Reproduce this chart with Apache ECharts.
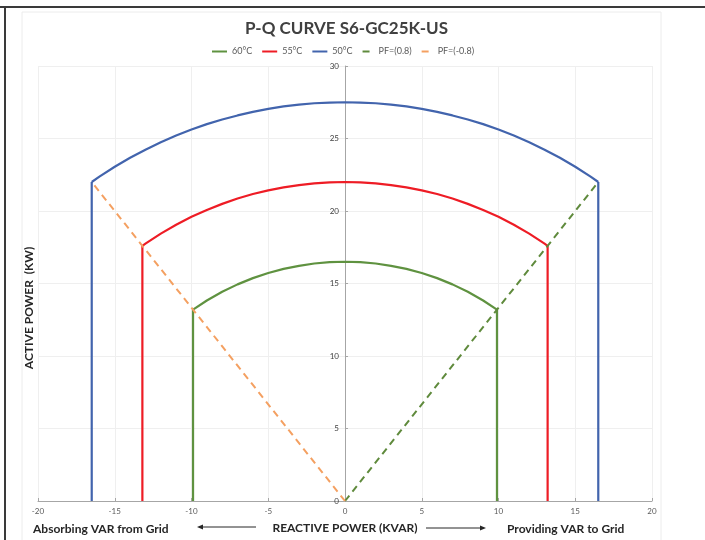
<!DOCTYPE html>
<html>
<head>
<meta charset="utf-8">
<script src="https://cdn.jsdelivr.net/npm/echarts@6/dist/echarts.min.js"></script>
<style>
  html, body { margin: 0; padding: 0; background: #fff; }
  #chart { width: 705px; height: 540px; }
</style>
</head>
<body>
<div id="chart"></div>
<script>
// reactive power (kvar) / active power (kW)
const q50Arc = [-16.5, -16, -15, -14, -13, -12, -11, -10, -9, -8, -7, -6, -5, -4, -3, -2, -1, 0,
  1, 2, 3, 4, 5, 6, 7, 8, 9, 10, 11, 12, 13, 14, 15, 16, 16.5]
const p50Arc = [22, 22.37, 23.05, 23.67, 24.23, 24.74, 25.2, 25.62, 25.99, 26.31, 26.59, 26.84, 27.04, 27.21, 27.34, 27.43, 27.48, 27.5,
  27.48, 27.43, 27.34, 27.21, 27.04, 26.84, 26.59, 26.31, 25.99, 25.62, 25.2, 24.74, 24.23, 23.67, 23.05, 22.37, 22]
const q50Legs = [-16.5, -16.5, '-', 16.5, 16.5]
const p50Legs = [0, 22, '-', 22, 0]

const q55Arc = [-13.2, -13, -12, -11, -10, -9, -8, -7, -6, -5, -4, -3, -2, -1, 0,
  1, 2, 3, 4, 5, 6, 7, 8, 9, 10, 11, 12, 13, 13.2]
const p55Arc = [17.6, 17.75, 18.44, 19.05, 19.6, 20.07, 20.49, 20.86, 21.17, 21.42, 21.63, 21.79, 21.91, 21.98, 22,
  21.98, 21.91, 21.79, 21.63, 21.42, 21.17, 20.86, 20.49, 20.07, 19.6, 19.05, 18.44, 17.75, 17.6]
const q55Legs = [-13.2, -13.2, '-', 13.2, 13.2]
const p55Legs = [0, 17.6, '-', 17.6, 0]

const q60Arc = [-9.9, -9, -8, -7, -6, -5, -4, -3, -2, -1, 0, 1, 2, 3, 4, 5, 6, 7, 8, 9, 9.9]
const p60Arc = [13.2, 13.83, 14.43, 14.94, 15.37, 15.72, 16.01, 16.22, 16.38, 16.47, 16.5,
  16.47, 16.38, 16.22, 16.01, 15.72, 15.37, 14.94, 14.43, 13.83, 13.2]
const q60Legs = [-9.9, -9.9, '-', 9.9, 9.9]
const p60Legs = [0, 13.2, '-', 13.2, 0]

const qPfPos = [0, 16.5]
const pPfPos = [0, 22]
const qPfNeg = [0, -16.5]
const pPfNeg = [0, 22]

const legendNames = ['60°C', '55°C', '50°C', 'PF=(0.8)', 'PF=(-0.8)']

const GREEN = '#5f9240'
const RED = '#ee1c25'
const BLUE = '#4264ad'
const GREEN_D = '#5f8a3c'
const ORANGE = '#f4a061'
const FONT = 'Lato'

const GRID_LEFT = 38
const GRID_RIGHT = 53
const GRID_W = 705 - GRID_LEFT - GRID_RIGHT

const zip = (xs, ys) => xs.map((x, i) => [x, ys[i]])

function curve(name, color, q, p) {
  return {
    name: name,
    type: 'line',
    data: zip(q, p),
    showSymbol: false,
    symbol: 'none',
    connectNulls: false,
    lineStyle: { color: color, width: 2.2, join: 'round' },
    itemStyle: { color: color },
    animation: false,
  }
}

function pfLine(name, color, q, p) {
  return {
    name: name,
    type: 'line',
    data: zip(q, p),
    showSymbol: false,
    symbol: 'none',
    lineStyle: { color: color, width: 2, type: [7, 5] },
    itemStyle: { color: color },
    animation: false,
  }
}

const boldText = (x, y, text, size, extra) => ({
  type: 'text', x: x, y: y, ...extra,
  style: { text: text, fontSize: size, fontWeight: 'bold', fill: '#262626', fontFamily: FONT, verticalAlign: 'middle', ...(extra && extra.style) },
})

const myChart = echarts.init(document.getElementById('chart'))
myChart.setOption({
  textStyle: { fontFamily: FONT },
  title: {
    text: 'P-Q CURVE S6-GC25K-US',
    left: 240,
    top: 15,
    textStyle: { fontSize: 17, fontWeight: 'bold', color: '#404040', fontFamily: FONT },
  },
  legend: {
    top: 42,
    left: 207,
    itemWidth: 15,
    itemHeight: 2,
    itemGap: 10,
    textStyle: { fontSize: 9, color: '#595959', fontFamily: FONT },
    data: [
      { name: legendNames[0], icon: 'rect' },
      { name: legendNames[1], icon: 'rect' },
      { name: legendNames[2], icon: 'rect' },
      { name: legendNames[3], icon: 'path://M0,0h7v2H0z' },
      { name: legendNames[4], icon: 'path://M0,0h7v2H0z' },
    ],
  },
  grid: { left: GRID_LEFT, right: GRID_RIGHT, top: 66, bottom: 39 },
  xAxis: {
    type: 'value',
    min: -20,
    max: 20,
    interval: 5,
    axisLine: { onZero: false, lineStyle: { color: '#a6a6a6' } },
    axisTick: { show: true, inside: true, length: 3, lineStyle: { color: '#a6a6a6' } },
    axisLabel: { fontSize: 8, color: '#595959', margin: 6 },
    splitLine: { lineStyle: { color: '#efefef' } },
  },
  yAxis: {
    type: 'value',
    min: 0,
    max: 30,
    interval: 5,
    // vertical axis sits at Q = 0, in the middle of the grid
    offset: -GRID_W / 2,
    axisLine: { show: true, onZero: false, lineStyle: { color: '#a6a6a6' } },
    axisTick: { show: true, inside: true, length: 3, lineStyle: { color: '#a6a6a6' } },
    axisLabel: { fontSize: 8, color: '#404040', margin: 6 },
    splitLine: { lineStyle: { color: '#efefef' } },
  },
  graphic: [
    { type: 'rect', shape: { x: 22, y: 12, width: 639, height: 540 }, style: { fill: 'none', stroke: '#ececec', lineWidth: 1 }, silent: true, z: -10 },
    { type: 'line', shape: { x1: 0, y1: 7, x2: 705, y2: 7 }, style: { stroke: '#3a3a3a', lineWidth: 2 } },
    { type: 'line', shape: { x1: 5, y1: 7, x2: 5, y2: 540 }, style: { stroke: '#3a3a3a', lineWidth: 2 } },
    boldText(29, 308, 'ACTIVE POWER  (KW)', 12, { rotation: Math.PI / 2, style: { align: 'center' } }),
    boldText(33, 529, 'Absorbing VAR from Grid', 12),
    boldText(345, 528, 'REACTIVE POWER (KVAR)', 12, { style: { align: 'center' } }),
    boldText(507, 529, 'Providing VAR to Grid', 12),
    { type: 'line', shape: { x1: 256, y1: 527, x2: 201, y2: 527 }, style: { stroke: '#262626', lineWidth: 1 } },
    { type: 'polygon', shape: { points: [[197, 527], [203, 524.5], [203, 529.5]] }, style: { fill: '#262626' } },
    { type: 'line', shape: { x1: 426, y1: 528, x2: 482, y2: 528 }, style: { stroke: '#262626', lineWidth: 1 } },
    { type: 'polygon', shape: { points: [[486, 528], [480, 525.5], [480, 530.5]] }, style: { fill: '#262626' } },
  ],
  series: [
    curve(legendNames[0], GREEN, q60Arc, p60Arc),
    curve(legendNames[0], GREEN, q60Legs, p60Legs),
    curve(legendNames[1], RED, q55Arc, p55Arc),
    curve(legendNames[1], RED, q55Legs, p55Legs),
    curve(legendNames[2], BLUE, q50Arc, p50Arc),
    curve(legendNames[2], BLUE, q50Legs, p50Legs),
    pfLine(legendNames[3], GREEN_D, qPfPos, pPfPos),
    pfLine(legendNames[4], ORANGE, qPfNeg, pPfNeg),
  ],
})
</script>
</body>
</html>
